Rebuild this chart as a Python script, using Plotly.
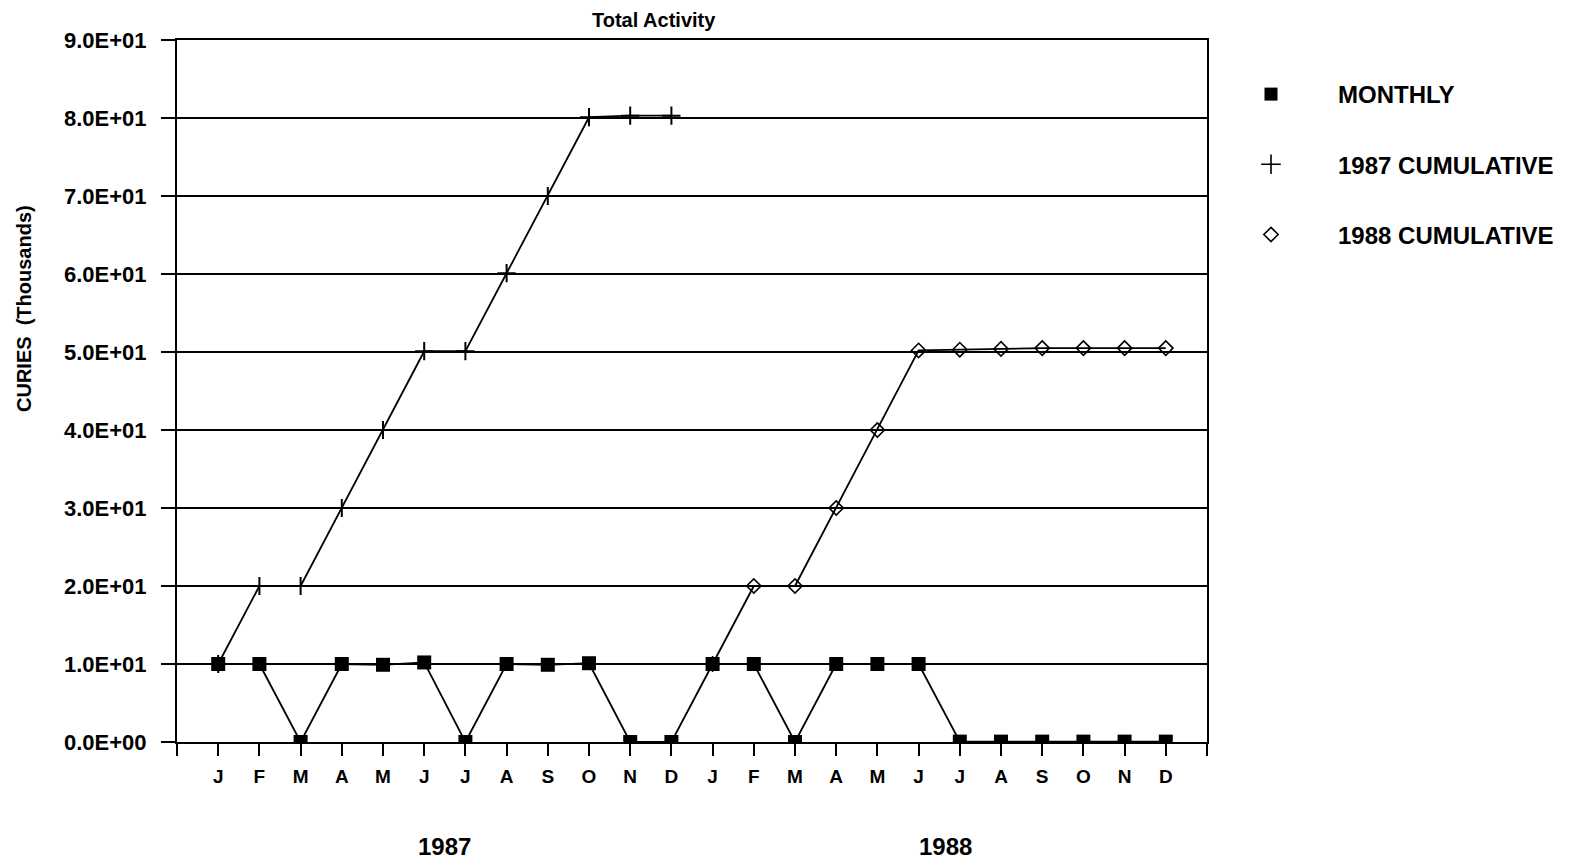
import plotly.graph_objects as go

months = ["J", "F", "M", "A", "M", "J", "J", "A", "S", "O", "N", "D"] * 2
years = ["1987", "1988"]

monthly = [10, 10, 0, 10, 9.9, 10.2, 0, 10, 9.9, 10.1, 0, 0,
           10, 10, 0, 10, 10, 10, 0.05, 0.05, 0.05, 0.05, 0.05, 0.05]
cum_1987 = [10, 20, 20, 30, 40, 50.1, 50.1, 60.1, 70, 80.1, 80.3, 80.3]
cum_1988 = [10, 20, 20, 30, 40, 50.2, 50.3, 50.4, 50.5, 50.5, 50.5, 50.5]

y_ticks = [0, 10, 20, 30, 40, 50, 60, 70, 80, 90]

x_all = list(range(len(months)))
x_1987 = x_all[:12]
x_1988 = x_all[12:]

FONT = "Liberation Sans, Arial, sans-serif"
BLACK = "#000000"

fig = go.Figure()

fig.add_trace(go.Scatter(
    x=x_1987, y=cum_1987, mode="lines+markers", showlegend=False,
    line=dict(color=BLACK, width=1.8),
    marker=dict(symbol="cross-thin", size=13, line=dict(color=BLACK, width=2)),
))
fig.add_trace(go.Scatter(
    x=x_1988, y=cum_1988, mode="lines+markers", showlegend=False,
    line=dict(color=BLACK, width=1.8),
    marker=dict(symbol="diamond-open", size=11, color=BLACK, line=dict(color=BLACK, width=1.6)),
))
fig.add_trace(go.Scatter(
    x=x_all, y=monthly, mode="lines+markers", showlegend=False,
    line=dict(color=BLACK, width=1.8),
    marker=dict(symbol="square", size=14, color=BLACK),
))

# legend-only entries (markers only)
fig.add_trace(go.Scatter(x=[None], y=[None], mode="markers", name="MONTHLY", legendgroup="a",
                         marker=dict(symbol="square", size=13, color=BLACK)))
fig.add_trace(go.Scatter(x=[None], y=[None], mode="markers", name="1987 CUMULATIVE", legendgroup="b",
                         marker=dict(symbol="cross-thin", size=14, line=dict(color=BLACK, width=1.6))))
fig.add_trace(go.Scatter(x=[None], y=[None], mode="markers", name="1988 CUMULATIVE", legendgroup="c",
                         marker=dict(symbol="diamond-open", size=11, color=BLACK, line=dict(color=BLACK, width=1.6))))

tickvals_x = [-1] + x_all + [len(months)]
ticktext_x = [""] + months + [""]

fig.update_xaxes(
    range=[-1, len(months)],
    tickmode="array", tickvals=tickvals_x, ticktext=ticktext_x,
    ticks="outside", ticklen=12, tickwidth=1.6, tickcolor=BLACK,
    showgrid=False, zeroline=False,
    showline=True, linecolor=BLACK, linewidth=2, mirror=True,
    tickfont=dict(family=FONT, size=19, color=BLACK, weight="bold"),
    ticklabelstandoff=4,
)
fig.update_yaxes(
    range=[0, 90],
    tickmode="array", tickvals=y_ticks, ticktext=[f"{v:.1E}" for v in y_ticks],
    ticks="outside", ticklen=14, tickwidth=1.6, tickcolor=BLACK,
    showgrid=True, gridcolor=BLACK, gridwidth=1.6, zeroline=False,
    showline=True, linecolor=BLACK, linewidth=2, mirror=True,
    tickfont=dict(family=FONT, size=22, color=BLACK, weight="bold"),
    ticklabelstandoff=10,
)

annotations = [
    dict(text="Total Activity", x=(654 - 177) / 1030, y=1 + 20 / 702, xref="paper", yref="paper",
         showarrow=False, xanchor="center", yanchor="middle",
         font=dict(family=FONT, size=20, color=BLACK, weight="bold")),
    dict(text="CURIES  (Thousands)", x=(24 - 177) / 1030, y=(742 - 309) / 702, xref="paper", yref="paper",
         showarrow=False, textangle=-90, xanchor="center", yanchor="middle",
         font=dict(family=FONT, size=20, color=BLACK, weight="bold")),
    dict(text=years[0], x=5.5, y=-105 / 702, xref="x", yref="paper",
         showarrow=False, xanchor="center", yanchor="middle",
         font=dict(family=FONT, size=24, color=BLACK, weight="bold")),
    dict(text=years[1], x=17.65, y=-105 / 702, xref="x", yref="paper",
         showarrow=False, xanchor="center", yanchor="middle",
         font=dict(family=FONT, size=24, color=BLACK, weight="bold")),
]

fig.update_layout(
    width=1590, height=860,
    margin=dict(l=177, r=383, t=40, b=118),
    plot_bgcolor="white", paper_bgcolor="white",
    annotations=annotations,
    legend=dict(
        x=(1204 - 177) / 1030, y=1 - (72 - 40) / 702, xanchor="left", yanchor="top",
        font=dict(family=FONT, size=24, color=BLACK, weight="bold"),
        itemwidth=124, tracegroupgap=36, bgcolor="rgba(0,0,0,0)",
    ),
)

fig.write_html("out.html")
